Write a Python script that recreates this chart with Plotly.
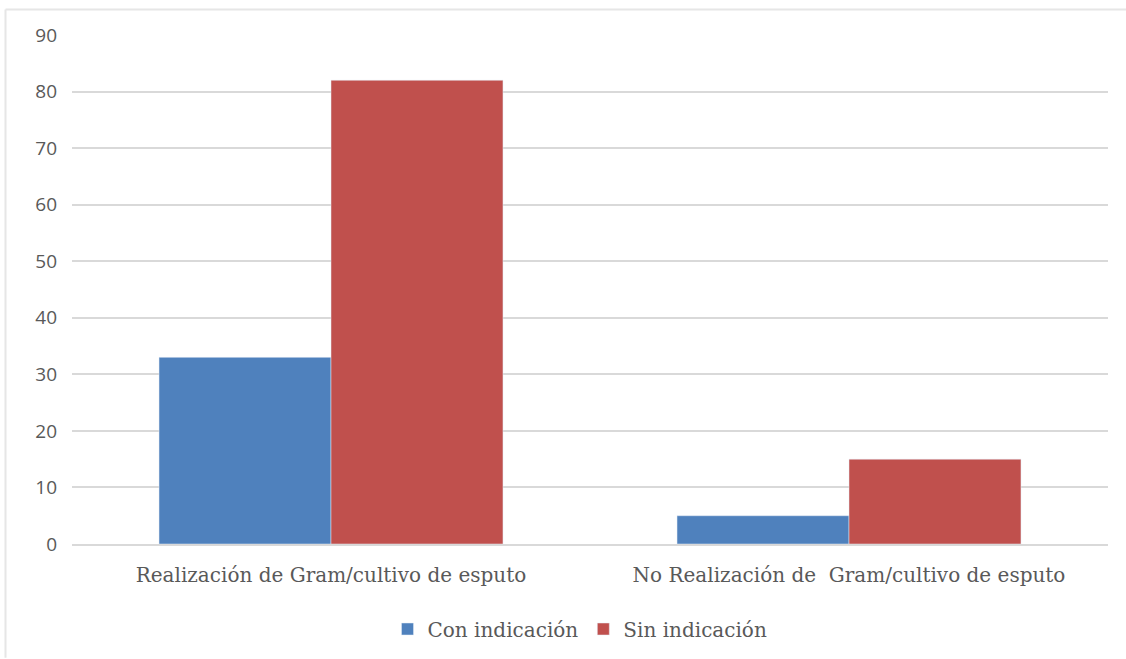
import plotly.graph_objects as go

categories = ["Realización de Gram/cultivo de esputo", "No Realización de  Gram/cultivo de esputo"]
con_indicacion = [33, 5]
sin_indicacion = [82, 15]
y_ticks = [0, 10, 20, 30, 40, 50, 60, 70, 80, 90]

W, H = 1126, 659
L, R, T, B = 72, 18, 35, 114
pw, ph = W - L - R, H - T - B

def px(x):
    return (x - L) / pw

def py(y):
    return (H - B - y) / ph

fig = go.Figure()
fig.add_trace(go.Bar(name="Con indicación", x=categories, y=con_indicacion, marker_color="#4F81BD"))
fig.add_trace(go.Bar(name="Sin indicación", x=categories, y=sin_indicacion, marker_color="#C0504D"))

serif = "DejaVu Serif"
fig.update_layout(
    width=W, height=H,
    margin=dict(l=L, r=R, t=T, b=B),
    paper_bgcolor="white", plot_bgcolor="white",
    font=dict(family=serif, color="#595959"),
    barmode="group", bargap=0.336, bargroupgap=0,
    showlegend=True,
    legend=dict(orientation="h", x=px(580), xanchor="center", y=py(629), yanchor="middle",
                font=dict(family=serif, size=20, color="#595959"), itemwidth=30,
                traceorder="normal"),
    xaxis=dict(showgrid=False, showline=True, linecolor="#D9D9D9", linewidth=2,
               tickfont=dict(family=serif, size=20, color="#595959"), ticks="",
               ticklabelstandoff=12),
    yaxis=dict(range=[0, 90], tickvals=y_ticks, showgrid=True, gridcolor="#D9D9D9", gridwidth=2,
               zeroline=False, showline=False,
               tickfont=dict(family="Open Sans", size=19, color="#595959"),
               ticklabelstandoff=14),
    shapes=[
        dict(type="line", xref="paper", yref="paper", x0=px(5.5), x1=px(W), y0=py(9.5), y1=py(9.5),
             line=dict(color="#E6E6E6", width=2)),
        dict(type="line", xref="paper", yref="paper", x0=px(5.5), x1=px(5.5), y0=py(9.5), y1=py(H),
             line=dict(color="#E6E6E6", width=2)),
    ],
)

fig.write_html("out.html")
